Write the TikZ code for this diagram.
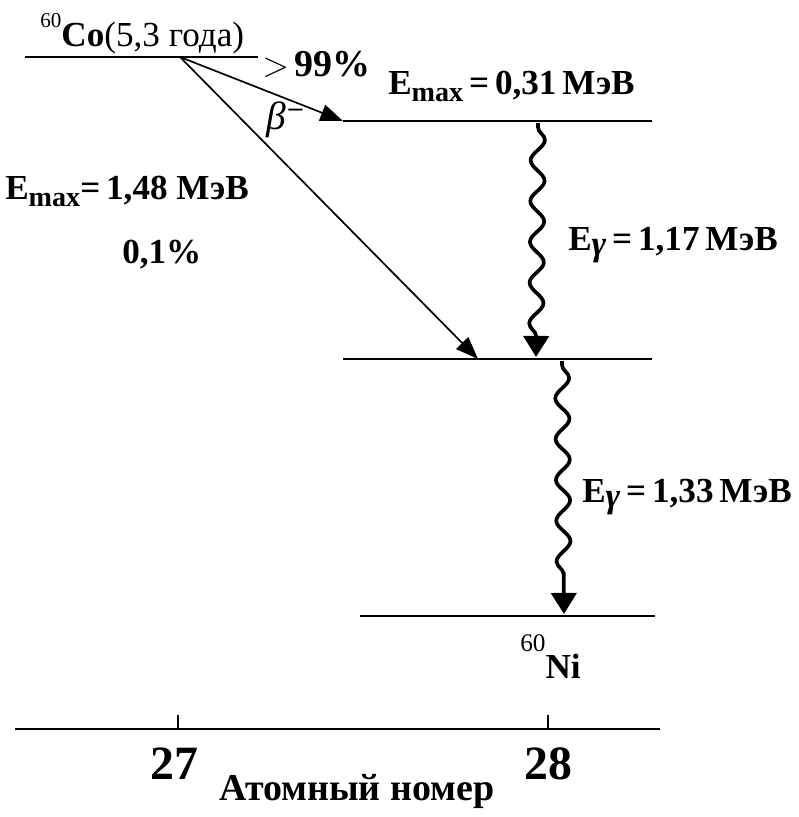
\documentclass[tikz,border=0pt]{standalone}
\usepackage{fontspec}
\setmainfont{Liberation Serif}
\usetikzlibrary{arrows.meta, decorations.pathmorphing, positioning}

% subscripts and mass numbers
\newcommand{\Emax}{E\raisebox{-5pt}{\fontsize{20}{24}\selectfont max}}
\newcommand{\Egam}{E\raisebox{-4pt}{\itshape γ}}
\newcommand{\massnum}[2]{\raisebox{#2}{\fontsize{#1}{20}\selectfont\mdseries 60}}

\begin{document}
\begin{tikzpicture}[
    x=0.025cm, y=-0.025cm,
    level/.style={
        line width=1.6pt
    },
    decay/.style={
        -{Triangle[length=16pt, width=12pt]},
        line width=1.2pt
    },
    gamma/.style={
        -{Triangle[length=15pt, width=18pt]},
        line width=2.6pt,
        decorate,
        decoration={snake, amplitude=5pt, segment length=29pt, pre length=3pt, post length=14pt}
    },
    lbl/.style={
        font=\fontsize{25}{30}\selectfont\bfseries,
        inner sep=0pt,
        anchor=base west
    },
    axislbl/.style={
        font=\fontsize{34}{40}\selectfont\bfseries,
        inner sep=0pt,
        anchor=base
    }
]

    \useasboundingbox (0,0) rectangle (798,817);

    % -- Levels --
    \coordinate (co0) at (25,57);
    \coordinate (co1) at (258,57);
    \coordinate (src) at (180,57);
    \coordinate (up0) at (343,121);
    \coordinate (up1) at (652,121);
    \coordinate (mid0) at (343,359);
    \coordinate (mid1) at (652,359);
    \coordinate (hit) at (478,359);
    \coordinate (ni0) at (360,616);
    \coordinate (ni1) at (655,616);

    \draw[level] (co0) -- (co1);
    \draw[level] (up0) -- (up1);
    \draw[level] (mid0) -- (mid1);
    \draw[level] (ni0) -- (ni1);

    % -- Beta decays --
    \draw[decay] (src) -- (up0);
    \draw[decay] (src) -- (hit);

    % -- Gamma transitions --
    \coordinate (g1a) at (538,123);
    \coordinate (g1b) at (536,357);
    \coordinate (g2a) at (562,361);
    \coordinate (g2b) at (564,614);
    \draw[gamma] (g1a) -- (g1b);
    \draw[gamma] (g2a) -- (g2b);

    % Labels
    \node[lbl] (co) at (40,46) {\massnum{15}{13pt}Co\mdseries(5,3 года)};
    \node[lbl] (pmain) at (262,76) {\mdseries$>$\,\fontsize{27}{30}\selectfont\bfseries 99\%};
    \node[lbl] (beta) at (266,129) {\mdseries\fontsize{28}{30}\selectfont\itshape β\kern2pt\textsuperscript{\bfseries\upshape –}};
    \node[lbl] (emax1) at (388,94) {\Emax\,=\,0,31\,МэВ};
    \node[lbl] (emax2) at (5,199) {\Emax=\,1,48 МэВ};
    \node[lbl] (pside) at (122,263) {0,1\%};
    \node[lbl] (eg1) at (568,250) {\Egam\,=\,1,17\,МэВ};
    \node[lbl] (eg2) at (582,502) {\Egam\,=\,1,33\,МэВ};
    \node[lbl] (ni) at (520,678) {\massnum{18}{19pt}Ni};

    % -- Axis --
    \coordinate (ax0) at (15,729);
    \coordinate (ax1) at (660,729);
    \coordinate (t27) at (178,729);
    \coordinate (t28) at (548,729);
    \draw[level] (ax0) -- (ax1);
    \draw[line width=1.2pt] (t27) -- ++(0,-14);
    \draw[line width=1.2pt] (t28) -- ++(0,-14);

    \node[axislbl] (n27) at (174,779) {27};
    \node[axislbl] (n28) at (548,779) {28};
    \node[axislbl, font=\fontsize{27}{32}\selectfont\bfseries] (axname) at (357,800) {Атомный номер};

\end{tikzpicture}
\end{document}
